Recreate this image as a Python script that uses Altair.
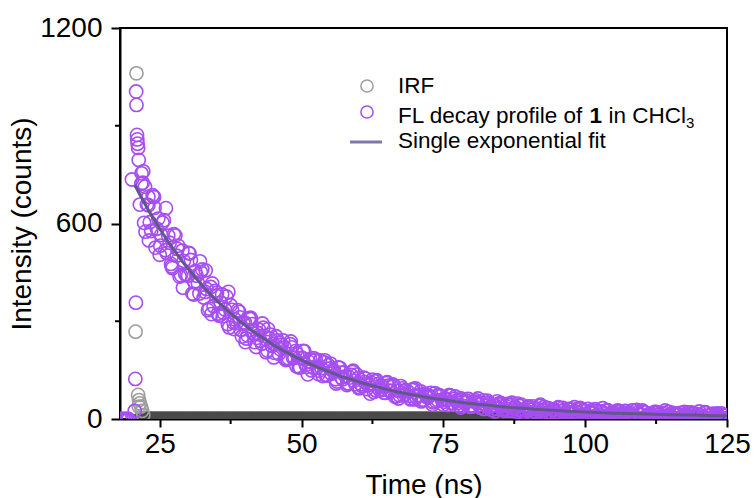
import altair as alt
import pandas as pd

# ---------------- data ----------------
# channel times of the decay record (ns), three interleaved sets of channels
grid_time = [
    21.5, 22.0, 22.5, 23.0, 23.5, 24.0, 24.5, 25.0, 25.5, 26.0,
    26.5, 27.0, 27.5, 28.0, 28.5, 29.0, 29.5, 30.0, 30.5, 31.0,
    31.5, 32.0, 32.5, 33.0, 33.5, 34.0, 34.5, 35.0, 35.5, 36.0,
    36.5, 37.0, 37.5, 38.0, 38.5, 39.0, 39.5, 40.0, 40.5, 41.0,
    41.5, 42.0, 42.5, 43.0, 43.5, 44.0, 44.5, 45.0, 45.5, 46.0,
    46.5, 47.0, 47.5, 48.0, 48.5, 49.0, 49.5, 50.0, 50.5, 51.0,
    51.5, 52.0, 52.5, 53.0, 53.5, 54.0, 54.5, 55.0, 55.5, 56.0,
    56.5, 57.0, 57.5, 58.0, 58.5, 59.0, 59.5, 60.0, 60.5, 61.0,
    61.5, 62.0, 62.5, 63.0, 63.5, 64.0, 64.5, 65.0, 65.5, 66.0,
    66.5, 67.0, 67.5, 68.0, 68.5, 69.0, 69.5, 70.0, 70.5, 71.0,
    71.5, 72.0, 72.5, 73.0, 73.5, 74.0, 74.5, 75.0, 75.5, 76.0,
    76.5, 77.0, 77.5, 78.0, 78.5, 79.0, 79.5, 80.0, 80.5, 81.0,
    81.5, 82.0, 82.5, 83.0, 83.5, 84.0, 84.5, 85.0, 85.5, 86.0,
    86.5, 87.0, 87.5, 88.0, 88.5, 89.0, 89.5, 90.0, 90.5, 91.0,
    91.5, 92.0, 92.5, 93.0, 93.5, 94.0, 94.5, 95.0, 95.5, 96.0,
    96.5, 97.0, 97.5, 98.0, 98.5, 99.0, 99.5, 100.0, 100.5, 101.0,
    101.5, 102.0, 102.5, 103.0, 103.5, 104.0, 104.5, 105.0, 105.5, 106.0,
    106.5, 107.0, 107.5, 108.0, 108.5, 109.0, 109.5, 110.0, 110.5, 111.0,
    111.5, 112.0, 112.5, 113.0, 113.5, 114.0, 114.5, 115.0, 115.5, 116.0,
    116.5, 117.0, 117.5, 118.0, 118.5, 119.0, 119.5, 120.0, 120.5, 121.0,
    121.5, 122.0, 122.5, 123.0, 123.5, 124.0, 124.5, 125.0,
]
fl_counts = [
    658, 725, 575, 656, 577, 681, 584, 504, 603, 518,
    563, 476, 567, 501, 437, 517, 444, 440, 488, 382,
    440, 385, 459, 390, 334, 405, 346, 378, 317, 382,
    336, 291, 349, 296, 294, 329, 253, 296, 256, 311,
    262, 221, 274, 231, 255, 210, 259, 231, 254, 200,
    228, 220, 183, 230, 188, 209, 159, 186, 208, 160,
    184, 158, 183, 138, 156, 174, 133, 155, 149, 122,
    158, 127, 143, 104, 127, 144, 107, 126, 106, 127,
    92, 106, 121, 89, 107, 103, 81, 110, 86, 99,
    68, 87, 101, 72, 88, 71, 89, 60, 73, 85,
    59, 74, 71, 54, 79, 58, 70, 44, 60, 73,
    48, 62, 49, 64, 40, 51, 61, 39, 53, 50,
    35, 57, 40, 50, 28, 42, 54, 44, 30, 40,
    25, 45, 33, 22, 40, 27, 27, 39, 18, 32,
    22, 40, 26, 14, 33, 20, 29, 16, 34, 24,
    14, 30, 18, 19, 30, 10, 24, 14, 31, 18,
    8, 25, 13, 22, 10, 27, 17, 8, 24, 12,
    13, 24, 5, 18, 9, 26, 13, 3, 20, 9,
    17, 5, 22, 13, 4, 19, 8, 9, 19, 2,
    14, 6, 22, 10, 1, 16, 6, 14, 3, 19,
    10, 1, 16, 6, 7, 17, 1, 12,
]
grid2_time = [
    21.75, 22.25, 22.75, 23.25, 23.75, 24.25, 24.75, 25.25, 25.75, 26.25,
    26.75, 27.25, 27.75, 28.25, 28.75, 29.25, 29.75, 30.25, 30.75, 31.25,
    31.75, 32.25, 32.75, 33.25, 33.75, 34.25, 34.75, 35.25, 35.75, 36.25,
    36.75, 37.25, 37.75, 38.25, 38.75, 39.25, 39.75, 40.25, 40.75, 41.25,
    41.75, 42.25, 42.75, 43.25, 43.75, 44.25, 44.75, 45.25, 45.75, 46.25,
    46.75, 47.25, 47.75, 48.25, 48.75, 49.25, 49.75, 50.25, 50.75, 51.25,
    51.75, 52.25, 52.75, 53.25, 53.75, 54.25, 54.75, 55.25, 55.75, 56.25,
    56.75, 57.25, 57.75, 58.25, 58.75, 59.25, 59.75, 60.25, 60.75, 61.25,
    61.75, 62.25, 62.75, 63.25, 63.75, 64.25, 64.75, 65.25, 65.75, 66.25,
    66.75, 67.25, 67.75, 68.25, 68.75, 69.25, 69.75, 70.25, 70.75, 71.25,
    71.75, 72.25, 72.75, 73.25, 73.75, 74.25, 74.75, 75.25, 75.75, 76.25,
    76.75, 77.25, 77.75, 78.25, 78.75, 79.25, 79.75, 80.25, 80.75, 81.25,
    81.75, 82.25, 82.75, 83.25, 83.75, 84.25, 84.75, 85.25, 85.75, 86.25,
    86.75, 87.25, 87.75, 88.25, 88.75, 89.25, 89.75, 90.25, 90.75, 91.25,
    91.75, 92.25, 92.75, 93.25, 93.75, 94.25, 94.75, 95.25, 95.75, 96.25,
    96.75, 97.25, 97.75, 98.25, 98.75, 99.25, 99.75, 100.25, 100.75, 101.25,
    101.75, 102.25, 102.75, 103.25, 103.75, 104.25, 104.75, 105.25, 105.75, 106.25,
    106.75, 107.25, 107.75, 108.25, 108.75, 109.25, 109.75, 110.25, 110.75, 111.25,
    111.75, 112.25, 112.75, 113.25, 113.75, 114.25, 114.75, 115.25, 115.75, 116.25,
    116.75, 117.25, 117.75, 118.25, 118.75, 119.25, 119.75, 120.25, 120.75, 121.25,
    121.75, 122.25, 122.75, 123.25, 123.75, 124.25, 124.75,
]
fl2_counts = [
    722, 602, 658, 604, 687, 526, 615, 565, 610, 509,
    541, 463, 563, 532, 441, 485, 444, 508, 385, 454,
    416, 451, 373, 399, 339, 416, 393, 323, 357, 326,
    376, 281, 335, 306, 334, 274, 294, 247, 309, 291,
    236, 264, 240, 280, 205, 248, 225, 203, 241, 214,
    241, 181, 186, 220, 188, 199, 158, 209, 166, 176,
    149, 180, 158, 180, 132, 136, 165, 139, 148, 115,
    157, 122, 131, 109, 135, 117, 136, 97, 100, 124,
    103, 111, 83, 119, 90, 98, 80, 102, 87, 103,
    70, 73, 94, 77, 84, 60, 92, 67, 73, 58,
    78, 65, 80, 51, 54, 73, 58, 64, 43, 71,
    49, 56, 42, 60, 49, 62, 37, 40, 57, 43,
    49, 31, 56, 37, 43, 31, 47, 39, 25, 46,
    42, 25, 36, 29, 44, 19, 36, 29, 39, 22,
    30, 17, 37, 34, 18, 28, 21, 36, 13, 28,
    22, 31, 16, 23, 12, 31, 27, 12, 22, 16,
    30, 8, 23, 17, 26, 12, 19, 7, 26, 23,
    8, 18, 12, 26, 4, 19, 13, 22, 8, 15,
    4, 22, 19, 6, 15, 9, 22, 2, 16, 11,
    19, 6, 13, 2, 20, 17, 3, 12, 7, 20,
    1, 14, 9, 17, 4, 11, 1,
]
grid3_time = [
    22.1, 23.1, 24.1, 25.1, 26.1, 27.1, 28.1, 29.1, 30.1, 31.1,
    32.1, 33.1, 34.1, 35.1, 36.1, 37.1, 38.1, 39.1, 40.1, 41.1,
    42.1, 43.1, 44.1, 45.1, 46.1, 47.1, 48.1, 49.1, 50.1, 51.1,
    52.1, 53.1, 54.1, 55.1, 56.1, 57.1, 58.1, 59.1, 60.1, 61.1,
    62.1, 63.1, 64.1, 65.1, 66.1, 67.1, 68.1, 69.1, 70.1, 71.1,
    72.1, 73.1, 74.1, 75.1, 76.1, 77.1, 78.1, 79.1, 80.1, 81.1,
    82.1, 83.1, 84.1, 85.1, 86.1, 87.1, 88.1, 89.1, 90.1, 91.1,
    92.1, 93.1, 94.1, 95.1, 96.1, 97.1, 98.1, 99.1, 100.1, 101.1,
    102.1, 103.1, 104.1, 105.1, 106.1, 107.1, 108.1, 109.1, 110.1, 111.1,
    112.1, 113.1, 114.1, 115.1, 116.1, 117.1, 118.1, 119.1, 120.1, 121.1,
    122.1, 123.1, 124.1,
]
fl3_counts = [
    760, 548, 648, 532, 647, 468, 522, 403, 510, 420,
    484, 456, 322, 387, 315, 390, 276, 312, 236, 307,
    249, 293, 276, 189, 233, 186, 238, 162, 188, 137,
    187, 148, 180, 170, 109, 142, 109, 148, 94, 114,
    78, 116, 89, 113, 106, 63, 88, 64, 94, 54,
    70, 44, 74, 53, 73, 69, 35, 56, 38, 63,
    31, 45, 23, 49, 32, 50, 47, 18, 37, 22,
    44, 17, 29, 11, 34, 20, 36, 34, 9, 26,
    12, 33, 9, 20, 4, 25, 12, 28, 26, 3,
    19, 7, 26, 4, 15, 1, 20, 8, 23, 21,
    1, 15, 3,
]
# FL points before / around the excitation pulse
fl_rise_time = [18.0, 18.3, 18.6, 18.9, 19.2, 19.5, 20.1, 20.6, 20.7, 20.8,
                20.85, 20.9, 21.0, 21.05, 21.1, 21.2, 21.3, 21.8, 22.4, 23.0, 23.9]
fl_rise_counts = [0, 0, 0, 0, 0, 0, 735, 25, 123, 357,
                  1005, 964, 872, 858, 845, 832, 795, 754, 713, 682, 682]
# IRF
irf_peak_time = [20.75, 20.9, 21.2, 21.35, 21.5, 21.3, 21.7, 21.9, 22.1]
irf_peak_counts = [268, 1061, 74, 58, 48, 38, 38, 25, 12]
# single exponential fit
fit_time = [20.6, 21, 23, 25, 27, 29, 31, 33, 35, 37, 39, 41, 43, 45, 47, 49, 51, 53, 55,
            57, 59, 61, 63, 65, 67, 69, 71, 73, 75, 77, 79, 81, 83, 85, 87, 89, 91,
            93, 95, 97, 99, 101, 103, 105, 107, 109, 111, 113, 115, 117, 119, 121, 123, 125]
fit_counts = [718, 705, 641, 584, 531, 483, 440, 400, 364, 332, 302, 275, 251, 228, 208, 190, 173, 158, 144,
              131, 120, 109, 100, 91, 83, 76, 70, 64, 59, 54, 49, 45, 42, 38, 35, 33, 30,
              28, 26, 24, 22, 21, 19, 18, 17, 16, 15, 14, 13, 12, 12, 11, 10, 10]
# axes
x_major = [25, 50, 75, 100, 125]
x_minor = [37.5, 62.5, 87.5, 112.5]
y_major = [0, 600, 1200]
y_minor = [300, 900]
# legend
legend_labels = ["IRF", "FL decay profile of ", "1", "in CHCl", "3", "Single exponential fit"]

# ---------------- styling ----------------
W, H = 607, 391
FONT = "Liberation Sans"
PURPLE = "#a64ef2"
GRAY = "#9e9e9e"
DARK = "#4a4a4a"
FITC = "#62578a"

xs = alt.Scale(domain=[18, 125], nice=False, zero=False)
ys = alt.Scale(domain=[0, 1200], nice=False)

x_axis = alt.Axis(values=x_major, title="Time (ns)", format="d", tickSize=8, tickWidth=2, tickColor="black",
                  domainColor="black", domainWidth=2, labelFont=FONT, labelFontSize=28,
                  labelColor="black", labelPadding=3, labelFlush=False, labelOverlap=False,
                  titleFont=FONT, titleFontSize=28, titleFontWeight="normal", titleColor="black",
                  titlePadding=13, grid=False)
y_axis = alt.Axis(values=y_major, title="Intensity (counts)", format="d", tickSize=9, tickWidth=2,
                  tickColor="black", domainColor="black", domainWidth=2, labelFont=FONT, labelFontSize=28,
                  labelColor="black", labelPadding=9, labelFlush=False, labelOverlap=False,
                  titleFont=FONT, titleFontSize=28, titleFontWeight="normal", titleColor="black",
                  titlePadding=3, grid=False)

X = alt.X("t:Q", scale=xs, axis=x_axis)
Y = alt.Y("c:Q", scale=ys, axis=y_axis)

fl_df = pd.DataFrame({"t": fl_rise_time + grid_time + grid2_time + grid3_time,
                      "c": fl_rise_counts + fl_counts + fl2_counts + fl3_counts})
irf_peak_df = pd.DataFrame({"t": irf_peak_time, "c": irf_peak_counts})
irf_base_t = grid_time + grid2_time
irf_base_df = pd.DataFrame({"t": irf_base_t, "c": [0] * len(irf_base_t)})
fit_df = pd.DataFrame({"t": fit_time, "c": fit_counts})

pt = dict(filled=False, size=175, strokeWidth=1.6, opacity=1, clip=True)

irf_base = alt.Chart(irf_base_df).mark_point(color=DARK, **pt).encode(x=X, y=Y)
irf_peak = alt.Chart(irf_peak_df).mark_point(color=GRAY, **pt).encode(x=X, y=Y)
fl = alt.Chart(fl_df).mark_point(color=PURPLE, **pt).encode(x=X, y=Y)
fit = alt.Chart(fit_df).mark_line(color=FITC, strokeWidth=3, clip=True).encode(x=X, y=Y)

xmin = alt.Chart(pd.DataFrame({"t": x_minor})).mark_rule(color="black", strokeWidth=2).encode(
    x=X, y=alt.value(H), y2=alt.value(H + 5))
ymin = alt.Chart(pd.DataFrame({"c": y_minor})).mark_rule(color="black", strokeWidth=2).encode(
    y=Y, x=alt.value(-5), x2=alt.value(0))

# manual legend (keeps the bold "1" and subscript "3")
one = pd.DataFrame({"a": [0]})
LF = 22.5
txt = dict(font=FONT, align="left", baseline="alphabetic", color="black")
leg = [
    alt.Chart(one).mark_point(color=GRAY, filled=False, size=150, strokeWidth=1.5, opacity=1).encode(
        x=alt.value(247), y=alt.value(58)),
    alt.Chart(one).mark_point(color=PURPLE, filled=False, size=150, strokeWidth=1.5, opacity=1).encode(
        x=alt.value(247), y=alt.value(84)),
    alt.Chart(one).mark_rule(color="#7f76ab", strokeWidth=3).encode(
        x=alt.value(230), x2=alt.value(262), y=alt.value(114)),
    alt.Chart(one).mark_text(text=legend_labels[0], fontSize=LF, **txt).encode(
        x=alt.value(278), y=alt.value(65)),
    alt.Chart(one).mark_text(text=legend_labels[1], fontSize=LF, **txt).encode(
        x=alt.value(278), y=alt.value(95)),
    alt.Chart(one).mark_text(text=legend_labels[2], fontSize=LF, fontWeight="bold", **txt).encode(
        x=alt.value(469.6), y=alt.value(95)),
    alt.Chart(one).mark_text(text=legend_labels[3], fontSize=LF, **txt).encode(
        x=alt.value(488.4), y=alt.value(95)),
    alt.Chart(one).mark_text(text=legend_labels[4], fontSize=15, **txt).encode(
        x=alt.value(566), y=alt.value(100)),
    alt.Chart(one).mark_text(text=legend_labels[5], fontSize=LF, **txt).encode(
        x=alt.value(278), y=alt.value(120)),
]

chart = alt.layer(irf_base, irf_peak, fl, fit, xmin, ymin, *leg).properties(
    width=W, height=H,
    padding={"left": 120, "top": 28, "right": 29, "bottom": 79},
    autosize=alt.AutoSizeParams(type="none"),
    background="white",
).configure_view(stroke="black", strokeWidth=2)

chart.save("out.html", embed_options={"renderer": "svg", "actions": False})
